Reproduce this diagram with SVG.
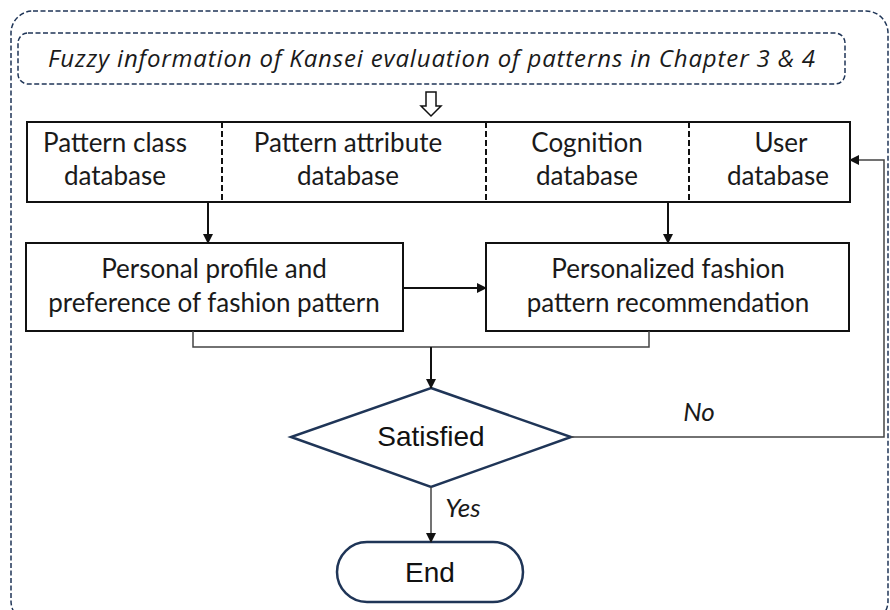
<svg xmlns="http://www.w3.org/2000/svg" width="890" height="610" viewBox="0 0 890 610">
<style>
.cal{font-family:Lato,"Liberation Sans",sans-serif;font-size:26px;fill:#1a1a1a;text-anchor:middle}
.ar{font-family:"Liberation Sans",Arial,sans-serif;font-size:28px;fill:#111;text-anchor:middle}
.it{font-style:italic}
.box{fill:#fff;stroke:#111;stroke-width:2}
.nav{fill:#fff;stroke:#1f3557;stroke-width:2.5}
.dash{fill:none;stroke:#1f3557;stroke-width:1.5;stroke-dasharray:5 2.5}
.div{stroke:#111;stroke-width:2;stroke-dasharray:6 3}
.ln{fill:none;stroke:#111;stroke-width:2}
.lg{fill:none;stroke:#444;stroke-width:1.5}
</style>
<defs>
<marker id="ah" markerWidth="10" markerHeight="10" refX="9" refY="5" orient="auto" markerUnits="userSpaceOnUse" viewBox="0 0 10 10">
<path d="M0,0 L10,5 L0,10 Z" fill="#111"/>
</marker>
</defs>
<g id="frame">
<rect x="11" y="11" width="877" height="612" rx="22" class="dash"/>
</g>
<g id="fuzzy">
<rect x="18" y="33" width="827" height="51" rx="10" class="dash"/>
<text x="48" y="67" class="it" font-family="'Open Sans',Lato,sans-serif" font-size="24" fill="#1a1a1a" textLength="767" lengthAdjust="spacing">Fuzzy information of Kansei evaluation of patterns in Chapter 3 &amp; 4</text>
</g>
<g id="databases">
<rect x="27" y="122" width="823" height="80" class="box"/>
<line x1="222" y1="122" x2="222" y2="202" class="div"/>
<line x1="486" y1="122" x2="486" y2="202" class="div"/>
<line x1="689" y1="122" x2="689" y2="202" class="div"/>
<text class="cal"><tspan x="115" y="152">Pattern class</tspan><tspan x="115" y="185">database</tspan></text>
<text class="cal"><tspan x="348" y="152">Pattern attribute</tspan><tspan x="348" y="185">database</tspan></text>
<text class="cal"><tspan x="587" y="152">Cognition</tspan><tspan x="587" y="185">database</tspan></text>
<text class="cal"><tspan x="781" y="152">User</tspan><tspan x="778" y="185">database</tspan></text>
</g>
<g id="profile">
<rect x="26" y="243" width="377" height="88" class="box"/>
<text class="cal"><tspan x="214" y="278">Personal profile and</tspan><tspan x="214" y="312">preference of fashion pattern</tspan></text>
</g>
<g id="recommend">
<rect x="486" y="243" width="363" height="88" class="box"/>
<text class="cal"><tspan x="668" y="278">Personalized fashion</tspan><tspan x="668" y="312">pattern recommendation</tspan></text>
</g>
<g id="satisfied">
<polygon points="431,388 571,437 431,487 291,437" class="nav"/>
<text x="431" y="446" class="ar">Satisfied</text>
</g>
<g id="end">
<rect x="337" y="542" width="186" height="60" rx="30" class="nav"/>
<text x="430" y="582" class="ar">End</text>
</g>
<g id="connectors">
<path d="M426,92 h10 v14 h5 l-10,10 l-10,-10 h5 z" fill="#fff" stroke="#111" stroke-width="1.5"/>
<line x1="208" y1="202" x2="208" y2="243" class="ln" marker-end="url(#ah)"/>
<line x1="668" y1="202" x2="668" y2="243" class="ln" marker-end="url(#ah)"/>
<line x1="403" y1="288" x2="486" y2="288" class="ln" marker-end="url(#ah)"/>
<polyline points="193,331 193,347 649,347 649,331" class="lg"/>
<line x1="431" y1="347" x2="431" y2="388" class="ln" marker-end="url(#ah)"/>
<polyline points="571,437 884,437 884,160 850,160" class="lg" marker-end="url(#ah)"/>
<line x1="431" y1="487" x2="431" y2="542" class="lg" marker-end="url(#ah)"/>
<text x="699" y="421" class="cal it" font-size="23">No</text>
<text x="463" y="517" class="cal it" font-size="23">Yes</text>
</g>
</svg>
